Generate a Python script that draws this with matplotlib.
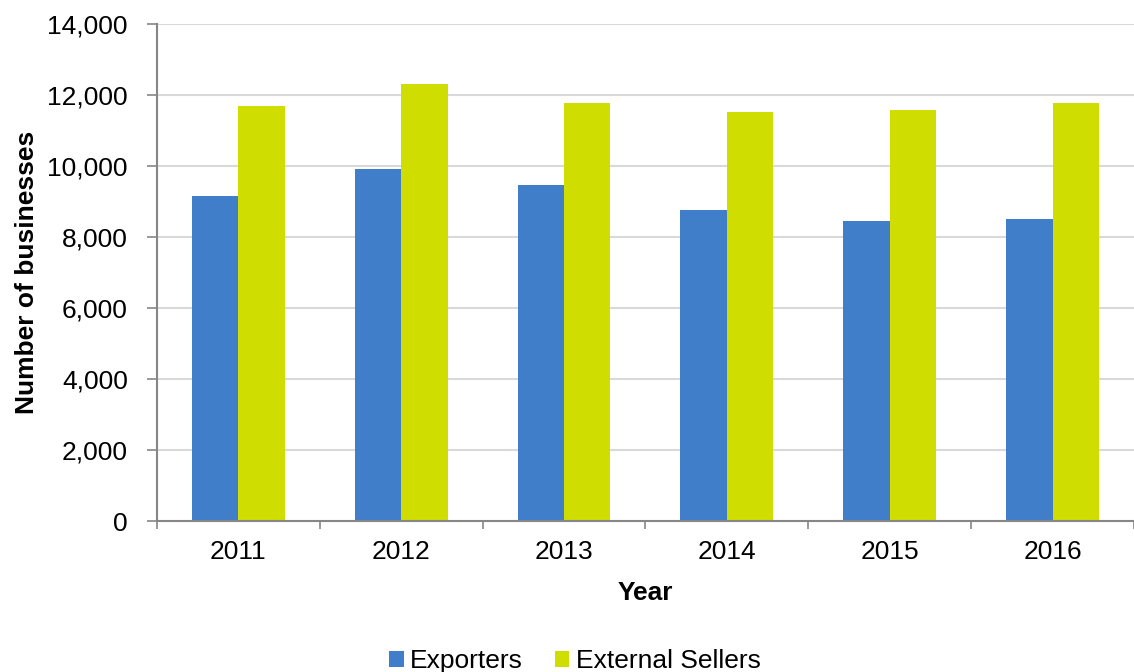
import matplotlib
matplotlib.use("Agg")
import matplotlib.pyplot as plt
import numpy as np
from matplotlib.ticker import FuncFormatter, FixedLocator

years = ["2011", "2012", "2013", "2014", "2015", "2016"]
exporters = [9160, 9910, 9455, 8750, 8450, 8515]
external_sellers = [11680, 12300, 11785, 11515, 11570, 11770]

BLUE = "#407EC9"
LIME = "#CFDD00"
AXIS = "#868686"
GRID = "#D9D9D9"
FS = 19

plt.rcParams["font.family"] = ["Liberation Sans", "DejaVu Sans"]

fig = plt.figure(figsize=(11.34, 6.72), dpi=100)
ax = fig.add_axes([0.1384, 0.2247, 0.8616, 0.7396])

x = np.arange(len(years))
w = 0.285
ax.bar(x - w / 2, exporters, width=w, color=BLUE, label="Exporters", zorder=2)
ax.bar(x + w / 2, external_sellers, width=w, color=LIME, label="External Sellers", zorder=2)

ax.set_xlim(-0.5, len(years) - 0.5)
ax.set_ylim(0, 14000)
ax.set_yticks(np.arange(0, 14001, 2000))
ax.yaxis.set_major_formatter(FuncFormatter(lambda v, p: f"{int(v):,}"))
ax.yaxis.grid(True, color=GRID, linewidth=1.5, zorder=0)
ax.set_axisbelow(True)

ax.set_xticks(x)
ax.set_xticklabels(years)
# category boundaries get the small tick marks, like the original
ax.xaxis.set_minor_locator(FixedLocator(np.arange(-0.5, len(years), 1.0)))
ax.tick_params(axis="x", which="major", length=0, pad=14, labelsize=FS)
ax.tick_params(axis="x", which="minor", length=6, width=1.2, color=AXIS, direction="out")
ax.tick_params(axis="y", length=7, width=1.2, color=AXIS, pad=14, labelsize=FS)

for s in ["top", "right"]:
    ax.spines[s].set_visible(False)
for s in ["left", "bottom"]:
    ax.spines[s].set_color(AXIS)
    ax.spines[s].set_linewidth(1.5)

ax.set_ylabel("Number of businesses", fontsize=FS, fontweight="bold", labelpad=6)
ax.set_xlabel("Year", fontsize=FS, fontweight="bold", labelpad=12)

fig.legend(loc="center", bbox_to_anchor=(0.507, 0.016), ncol=2, frameon=False,
           fontsize=FS, handlelength=0.55, handleheight=0.55, handletextpad=0.25,
           columnspacing=1.2)

fig.savefig("out.png", dpi=100)
